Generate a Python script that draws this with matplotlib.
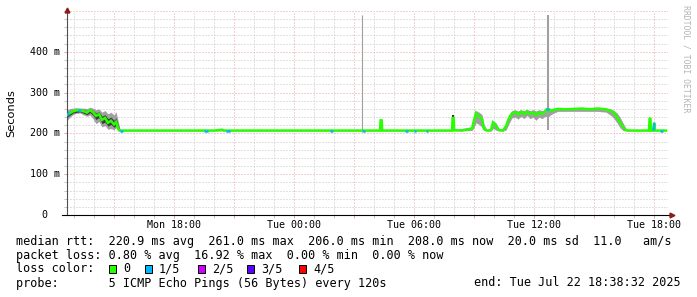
import numpy as np
import matplotlib
matplotlib.use("Agg")
import matplotlib.pyplot as plt
from matplotlib.collections import LineCollection

plt.rcParams['font.family'] = 'DejaVu Sans Mono'
plt.rcParams['lines.scale_dashes'] = False

# hours since Mon 00:00, median rtt in ms, loss level (0..4 pings of 5) of the segment that starts here
med_t = [12.66, 12.78, 12.80, 12.95, 13.10, 13.20, 13.30, 13.35, 13.50, 13.65, 13.80, 13.95,
         14.10, 14.25, 14.40, 14.55, 14.70, 14.85, 15.00, 15.10, 15.20, 15.25, 15.30, 15.45,
         19.50, 19.70, 20.00, 20.40, 20.50, 20.60, 20.80, 25.80, 25.95, 27.40, 27.55,
         28.30, 28.33, 28.38, 28.41, 29.55, 29.70, 30.00, 30.10, 30.60, 30.70, 31.20,
         31.90, 31.93, 31.98, 32.01, 32.40, 32.90, 33.00, 33.10, 33.25, 33.40, 33.50, 33.65,
         33.85, 33.95, 34.10, 34.25, 34.45, 34.60, 34.75, 34.90, 35.05, 35.20, 35.35, 35.50,
         35.65, 35.80, 35.95, 36.10, 36.25, 36.40, 36.55, 36.62, 36.75, 36.85, 37.00, 37.20,
         37.60, 38.00, 38.40, 38.80, 39.20, 39.60, 39.85, 40.00, 40.15, 40.30, 40.45, 40.60,
         40.75, 41.75, 41.78, 41.82, 41.85, 41.98, 42.01, 42.05, 42.30, 42.45, 42.60]
med_ms = [246, 249, 250, 254, 256, 257, 257, 256, 254, 251, 257, 252,
          243, 247, 233, 238, 226, 231, 222, 228, 214, 208, 207, 207,
          207, 207, 207, 209, 207, 207, 207, 207, 207, 207, 207,
          207, 232, 232, 207, 207, 207, 207, 207, 207, 207, 207,
          207, 238, 238, 208, 207, 212, 232, 250, 241, 236, 211, 207,
          208, 227, 219, 208, 207, 218, 238, 249, 252, 246, 253, 247,
          254, 248, 251, 245, 252, 248, 253, 259, 259, 255, 258, 260,
          259, 260, 261, 259, 261, 259, 255, 250, 240, 228, 215, 208,
          207, 207, 236, 236, 207, 207, 226, 207, 207, 207, 207]
med_loss = [1, 0, 0, 0, 0, 1, 1, 0, 0, 0, 0, 0,
            0, 0, 0, 0, 0, 0, 0, 0, 0, 0, 1, 0,
            1, 0, 0, 0, 0, 1, 0, 1, 0, 1, 0,
            0, 0, 0, 0, 1, 0, 1, 0, 1, 0, 0,
            0, 0, 0, 0, 0, 0, 0, 0, 0, 0, 0, 0,
            0, 0, 0, 0, 0, 0, 0, 0, 0, 0, 0, 0,
            0, 0, 0, 0, 0, 0, 0, 1, 0, 0, 0, 0,
            0, 0, 0, 0, 0, 0, 0, 0, 0, 0, 0, 0,
            0, 0, 0, 0, 0, 1, 0, 0, 1, 0, 0]

# outer smoke (light grey), spread of the pings
smoke_t = [12.66, 12.80, 12.95, 13.10, 13.30, 13.50, 13.65, 13.80, 13.95, 14.10, 14.25, 14.40,
           14.55, 14.70, 14.85, 15.00, 15.10, 15.20, 15.30, 15.40, 28.30, 28.33, 28.41, 31.90,
           31.93, 32.01, 32.90, 33.00, 33.10, 33.25, 33.40, 33.50, 33.65, 33.85, 33.95, 34.10,
           34.25, 34.45, 34.60, 34.75, 34.90, 35.05, 35.20, 35.35, 35.50, 35.65, 35.80, 35.95,
           36.10, 36.25, 36.40, 36.55, 36.70, 36.85, 37.00, 37.20, 38.00, 39.20, 39.60, 39.85,
           40.00, 40.15, 40.30, 40.45, 40.60, 40.75, 41.75, 41.78, 41.85, 42.01, 42.05, 42.60]
smoke_lo = [232, 240, 246, 249, 250, 245, 242, 245, 236, 224, 229, 216,
            219, 210, 212, 209, 214, 206, 205, 206, 206, 207, 206, 206,
            207, 206, 207, 214, 226, 222, 215, 207, 206, 206, 212, 208,
            206, 206, 208, 224, 238, 240, 235, 242, 236, 244, 236, 240,
            232, 240, 236, 242, 240, 246, 250, 254, 254, 254, 252, 244,
            236, 226, 214, 207, 206, 206, 206, 207, 206, 207, 206, 206]
smoke_hi = [258, 261, 262, 263, 262, 262, 261, 264, 262, 258, 260, 252,
            256, 248, 252, 245, 253, 232, 210, 208, 208, 234, 208, 208,
            246, 209, 216, 242, 256, 252, 246, 222, 209, 210, 231, 226,
            212, 210, 226, 246, 256, 258, 255, 258, 256, 259, 256, 258,
            255, 258, 256, 259, 258, 260, 262, 263, 263, 264, 262, 260,
            256, 250, 240, 226, 212, 209, 209, 238, 209, 228, 209, 209]

# inner smoke (dark)
dark_t = [12.66, 12.95, 13.30, 13.65, 13.80, 13.95, 14.10, 14.25, 14.40, 14.55, 14.70, 14.85,
          15.00, 15.10, 15.20, 15.30]
dark_lo = [240, 250, 253, 246, 251, 245, 234, 239, 224, 228, 218, 222, 215, 220, 208, 206]
dark_hi = [252, 257, 260, 256, 260, 256, 250, 253, 242, 246, 236, 240, 232, 238, 222, 209]

# single dark jumps and the two lone outliers
jump_t = [28.35, 31.95, 41.80]
jump_top = [233, 245, 238]
outlier_t = [27.40, 36.70]
outlier_top = [491, 491]
outlier_w = [0.8, 1.5]

loss_colors = ['#26ff00', '#00b8ff', '#ce00ff', '#5e00ff', '#ff0000']
loss_names = ['0', '1/5', '2/5', '3/5', '4/5']

xticks = [18, 24, 30, 36, 42]
xlabels = ['Mon 18:00', 'Tue 00:00', 'Tue 06:00', 'Tue 12:00', 'Tue 18:00']
yticks = [0, 100, 200, 300, 400]
ylabels = ['0', '100 m', '200 m', '300 m', '400 m']

W, H = 697, 297
fig = plt.figure(figsize=(W / 100, H / 100), dpi=100)
ax = fig.add_axes([67 / W, 82 / H, 601 / W, 204 / H])
ax.set_xlim(12.65, 42.70)
ax.set_ylim(0, 500)

# grid, drawn as dotted lines (1 px on, 2 px off)
dot = (0, (0.72, 1.44))
minor_c, major_c = '#c4c4c4', '#e8a0a0'
for x in np.arange(13, 43, 1):
    if x % 3:
        ax.axvline(x, color=minor_c, linewidth=0.72, linestyle=dot, zorder=0)
for y in np.arange(20, 501, 20):
    if y % 100:
        ax.axhline(y, color=minor_c, linewidth=0.72, linestyle=dot, zorder=0)
for x in np.arange(15, 43, 3):
    ax.axvline(x, color=major_c, linewidth=0.72, linestyle=dot, zorder=0.5)
for y in np.arange(100, 501, 100):
    ax.axhline(y, color=major_c, linewidth=0.72, linestyle=dot, zorder=0.5)

ax.set_xticks(np.arange(15, 43, 3))
ax.set_xticks(np.arange(13, 43, 1), minor=True)
ax.set_yticks(np.arange(0, 501, 100))
ax.set_yticks(np.arange(0, 501, 20), minor=True)
ax.tick_params(which='both', length=2, width=0.7, direction='out',
               labelbottom=False, labelleft=False)
ax.tick_params(which='major', color=major_c)
ax.tick_params(which='minor', color=minor_c)

# smoke
ax.fill_between(smoke_t, smoke_lo, smoke_hi, color='#a0a0a0', linewidth=0, zorder=2)
ax.fill_between(dark_t, dark_lo, dark_hi, color='#3c3c3c', linewidth=0, zorder=2)
ax.vlines(outlier_t, 208, outlier_top, colors='#a0a0a0', linewidths=outlier_w, zorder=2)
ax.vlines(jump_t, 207, jump_top, colors='#202020', linewidths=1.4, zorder=2)

# median line coloured by loss
ax.plot(med_t, med_ms, color=loss_colors[0], linewidth=1.8, zorder=3,
        solid_joinstyle='miter')
segs, cols = [], []
for i in range(len(med_t) - 1):
    if med_loss[i] > 0:
        segs.append([(med_t[i], med_ms[i]), (med_t[i + 1], med_ms[i + 1])])
        cols.append(loss_colors[med_loss[i]])
ax.add_collection(LineCollection(segs, colors=cols, linewidths=1.8, zorder=4,
                                 capstyle='butt'))

# axes lines and arrows
for s in ['top', 'right', 'bottom']:
    ax.spines[s].set_visible(False)
ax.spines['left'].set_color('#505050')
ax.spines['left'].set_linewidth(0.8)
ax.plot([-0.008, 1.004], [0, 0], transform=ax.transAxes, color='black',
        linewidth=0.8, clip_on=False, zorder=5)
ax.plot([0], [1.005], marker='^', color='#8b1c1c', markersize=3.5,
        transform=ax.transAxes, clip_on=False, zorder=5)
ax.plot([1.006], [0], marker='>', color='#8b1c1c', markersize=3.5,
        transform=ax.transAxes, clip_on=False, zorder=5)

# tick labels
for x, lab in zip(xticks, xlabels):
    ax.text(x, -10 / 204, lab, transform=ax.get_xaxis_transform(), ha='center',
            va='center', fontsize=7.2)
for y, lab in zip(yticks, ylabels):
    xr = -20 / 601 if lab == '0' else -7 / 601
    ax.text(xr, y, lab, transform=ax.get_yaxis_transform(), ha='right',
            va='center', fontsize=7.2)

fig.text(11 / W, 1 - 113 / H, 'Seconds', rotation=90, ha='center', va='center',
         fontsize=8.2, family='DejaVu Sans')
fig.text(686 / W, 1 - 59 / H, 'RRDTOOL / TOBI OETIKER', rotation=270, ha='center',
         va='center', fontsize=5.9, color='#b4b4b4')

# legend
fs = 8.5
fig.text(16 / W, 1 - 241 / H,
         'median rtt:  220.9 ms avg  261.0 ms max  206.0 ms min  208.0 ms now  20.0 ms sd  11.0   am/s',
         va='center', fontsize=fs)
fig.text(16 / W, 1 - 255 / H,
         'packet loss: 0.80 % avg  16.92 % max  0.00 % min  0.00 % now',
         va='center', fontsize=fs)
fig.text(16 / W, 1 - 269 / H, 'loss color:', va='center', fontsize=fs)
box_x = [109, 145, 198, 247, 299]
for bx, c, name in zip(box_x, loss_colors, loss_names):
    fig.patches.append(plt.Rectangle((bx / W, 1 - 273 / H), 7 / W, 8 / H, facecolor=c,
                                     edgecolor='black', linewidth=0.7,
                                     transform=fig.transFigure, figure=fig))
    fig.text((bx + 14) / W, 1 - 269 / H, name, va='center', fontsize=fs)
fig.text(16 / W, 1 - 283 / H, 'probe:       5 ICMP Echo Pings (56 Bytes) every 120s',
         va='center', fontsize=fs)
fig.text(681 / W, 1 - 283 / H, 'end: Tue Jul 22 18:38:32 2025', ha='right',
         va='center', fontsize=fs)

fig.savefig('out.png', dpi=100)
